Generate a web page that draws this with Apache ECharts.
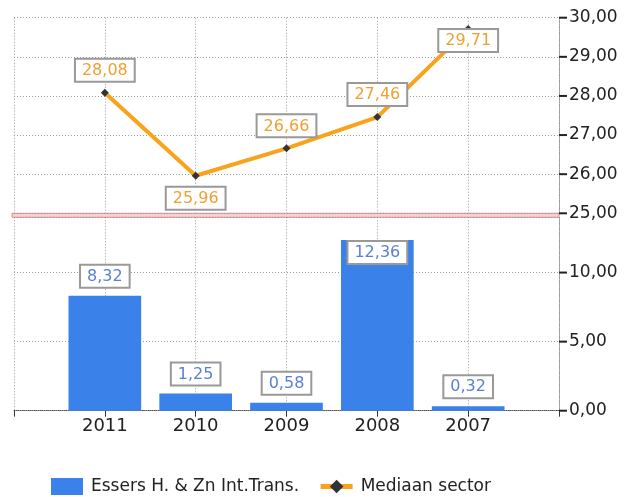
<!DOCTYPE html>
<html>
<head>
<meta charset="utf-8">
<script src="https://cdn.jsdelivr.net/npm/echarts@6/dist/echarts.min.js"></script>
<style>
html,body{margin:0;padding:0;background:#fff;}
#c{width:637px;height:497px;}
</style>
</head>
<body>
<div id="c"></div>
<script>
// ---- data ----
var categories = ['2011', '2010', '2009', '2008', '2007'];
var companyName = 'Essers H. & Zn Int.Trans.';
var companyValues = [8.32, 1.25, 0.58, 12.36, 0.32];
var medianName = 'Mediaan sector';
var medianValues = [28.08, 25.96, 26.66, 27.46, 29.71];
var topTicks = [25, 26, 27, 28, 29, 30];
var bottomTicks = [0, 5, 10];

// ---- build ----
var TOP_MIN = 25, TOP_MAX = 30, BOTTOM_MAX = 14;
var axisCats = [''].concat(categories, ['']);
function pad(arr) { return [null].concat(arr, [null]); }
function fmt(v) { return Number(v).toFixed(2).replace('.', ','); }
var FONT = 'DejaVu Sans';

var lineData = pad(medianValues.map(function (v, i) {
  var prev = i > 0 ? medianValues[i - 1] : -Infinity;
  var next = i < medianValues.length - 1 ? medianValues[i + 1] : -Infinity;
  var nearTop = v > TOP_MAX - 0.6;
  var isMin = v < prev && (i === medianValues.length - 1 || v < next) && i > 0;
  var pos = (nearTop || isMin) ? 'bottom' : 'top';
  return { value: v, label: { position: pos, distance: nearTop ? -3 : 8 } };
}));
var barData = pad(companyValues.map(function (v) {
  var inside = v > BOTTOM_MAX - 2.5;
  return { value: v, label: { position: inside ? 'insideTop' : 'top', distance: inside ? 2 : 9 } };
}));

var dotted = { color: '#9a9a9a', type: [1, 2], width: 1 };
var labelBox = { fontSize: 16, fontFamily: FONT, backgroundColor: '#fff',
  borderColor: '#999', borderWidth: 2, padding: [3, 6, 2, 6] };

// y-axis labels carry their own outward tick mark
function tickLabel(v) { return '{t| }{v|' + fmt(v) + '}'; }
var yLabel = {
  color: '#222', fontSize: 17, margin: 0, fontFamily: FONT, formatter: tickLabel,
  rich: {
    t: { width: 8, height: 2, lineHeight: 2, backgroundColor: '#222', fontSize: 2 },
    v: { color: '#222', fontSize: 17, fontFamily: FONT, padding: [0, 0, 0, 2] }
  }
};

var chart = echarts.init(document.getElementById('c'), null, { renderer: 'canvas' });
chart.setOption({
  animation: false,
  textStyle: { fontFamily: FONT },
  grid: [
    { left: 14, right: 78, top: 17.7, height: 195.6, outerBoundsMode: 'none' },
    { left: 14, right: 78, top: 217.3, height: 193.4, outerBoundsMode: 'none' },
    { left: 12, right: 78, top: 213.3, height: 4, outerBoundsMode: 'none', show: true,
      backgroundColor: '#f6d2d2', borderColor: '#dd8c8c', borderWidth: 1 }
  ],
  xAxis: [
    { type: 'category', gridIndex: 0, data: axisCats, boundaryGap: false,
      axisLine: { show: false }, axisTick: { show: false }, axisLabel: { show: false },
      splitLine: { show: true, lineStyle: dotted } },
    { type: 'category', gridIndex: 1, data: axisCats, boundaryGap: false,
      axisLine: { show: true, lineStyle: { color: '#555', type: [1, 1], width: 1 } },
      axisTick: { show: true, length: 6, lineStyle: { color: '#333' } },
      axisLabel: { show: true, color: '#222', fontSize: 18, margin: 7, fontFamily: FONT },
      splitLine: { show: true, lineStyle: dotted } },
    { type: 'category', gridIndex: 2, data: axisCats, show: false }
  ],
  yAxis: [
    { type: 'value', gridIndex: 0, position: 'right', min: TOP_MIN, max: TOP_MAX, interval: 1,
      axisLine: { show: true, lineStyle: { color: '#999', type: [1, 1] } },
      axisTick: { show: false },
      axisLabel: Object.assign({ customValues: topTicks }, yLabel),
      splitLine: { show: true, lineStyle: dotted } },
    { type: 'value', gridIndex: 1, position: 'right', min: 0, max: BOTTOM_MAX, interval: 5,
      axisLine: { show: true, lineStyle: { color: '#999', type: [1, 1] } },
      axisTick: { show: false },
      axisLabel: Object.assign({ customValues: bottomTicks }, yLabel),
      splitLine: { show: true, lineStyle: dotted } },
    { type: 'value', gridIndex: 2, show: false }
  ],
  legend: {
    left: 51, top: 478, padding: 0, itemWidth: 32, itemHeight: 17, itemGap: 19,
    textStyle: { color: '#222', fontSize: 17, fontFamily: FONT, padding: [0, 0, 0, 3] },
    data: [
      { name: companyName, icon: 'rect' },
      { name: medianName, lineStyle: { width: 5 } }
    ]
  },
  series: [
    { name: companyName, type: 'bar', xAxisIndex: 1, yAxisIndex: 1, data: barData,
      barWidth: '80%', itemStyle: { color: '#3a82ea' }, z: 3,
      label: Object.assign({ show: true, color: '#5b7fd4',
        formatter: function (p) { return fmt(p.value); } }, labelBox) },
    { name: medianName, type: 'line', xAxisIndex: 0, yAxisIndex: 0, data: lineData,
      symbol: 'diamond', symbolSize: 8, z: 4,
      lineStyle: { color: '#f9a31c', width: 4 },
      itemStyle: { color: '#333' },
      label: Object.assign({ show: true, color: '#f0a030',
        formatter: function (p) { return fmt(p.value); } }, labelBox) }
  ]
});
</script>
</body>
</html>
